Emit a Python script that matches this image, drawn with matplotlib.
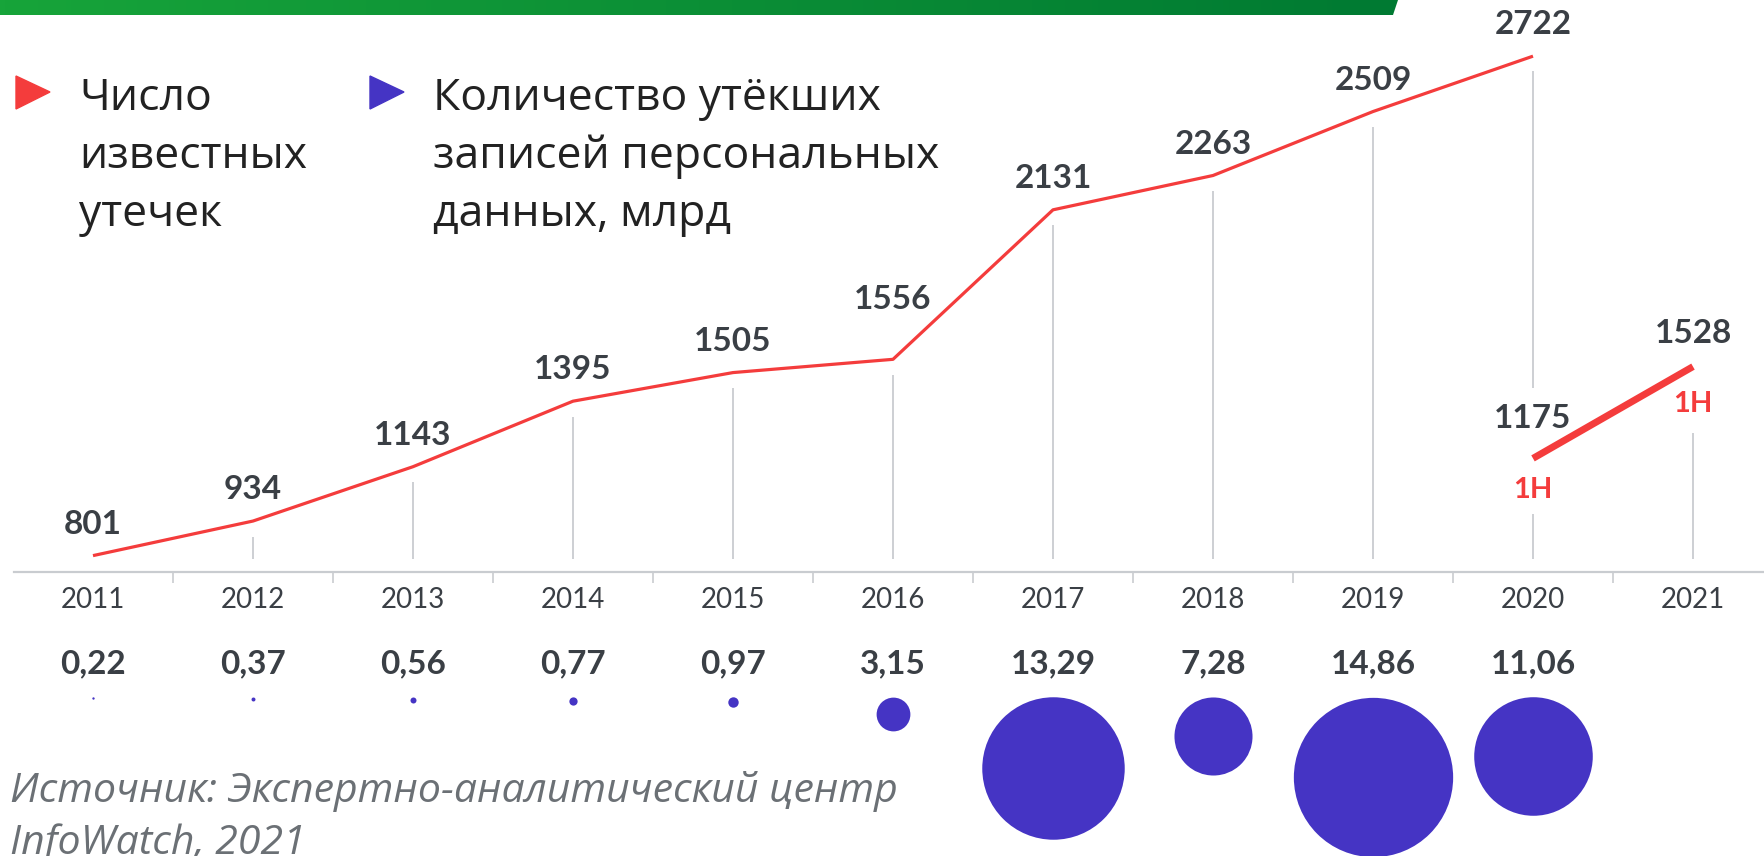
import numpy as np
import matplotlib.pyplot as plt
from matplotlib.patches import Polygon
from matplotlib.colors import LinearSegmentedColormap
from matplotlib.transforms import ScaledTranslation

# data
years = [2011, 2012, 2013, 2014, 2015, 2016, 2017, 2018, 2019, 2020]
leaks = [801, 934, 1143, 1395, 1505, 1556, 2131, 2263, 2509, 2722]
half_years = [2020, 2021]
half_leaks = [1175, 1528]
half_label = '1H'
records = [0.22, 0.37, 0.56, 0.77, 0.97, 3.15, 13.29, 7.28, 14.86, 11.06]
axis_years = list(range(2011, 2022))

legend_left = ['Число', 'известных', 'утечек']
legend_right = ['Количество утёкших', 'записей персональных', 'данных, млрд']
source_lines = ['Источник: Экспертно-аналитический центр', 'InfoWatch, 2021']

RED = '#F43C3C'
BLUE = '#4534C4'
DARK = '#3A3F45'
GRID = '#C9CCD0'

W, H = 1764, 856
fig = plt.figure(figsize=(W / 100, H / 100), dpi=100)
fig.patch.set_facecolor('white')

# main line chart, bottom spine = baseline
ax = fig.add_axes([14 / W, (H - 572) / H, 1 - 14 / W, 572 / H])
ax.set_facecolor('none')
xlim = (2011 - 79 / 160, 2011 + (W - 93) / 160)
ax.set_xlim(*xlim)
ax.set_ylim(738, 2938)

for s in ['top', 'left', 'right']:
    ax.spines[s].set_visible(False)
ax.spines['bottom'].set_color(GRID)
ax.spines['bottom'].set_linewidth(1.6)
ax.set_yticks([])
ax.set_xticks(axis_years)
ax.set_xticklabels([str(y) for y in axis_years], family='Lato',
                   fontsize=20, color=DARK)
ax.set_xticks([y + 0.5 for y in axis_years[:-1]], minor=True)
ax.tick_params(axis='x', which='major', length=0, pad=11)
ax.tick_params(axis='x', which='minor', length=8, width=1.2, color=GRID)

# grey drop lines under each point
base = 788
for yr, v in zip(years, leaks):
    if yr == 2020:
        ax.vlines(yr, half_leaks[0] + 270, v - 56, color=GRID, lw=1.3)
        ax.vlines(yr, base, half_leaks[0] - 215, color=GRID, lw=1.3)
    elif v - 56 > base:
        ax.vlines(yr, base, v - 60, color=GRID, lw=1.3)
ax.vlines(half_years[1], base, half_leaks[1] - 255, color=GRID, lw=1.3)

ax.plot(years, leaks, color=RED, lw=2.3, solid_capstyle='butt')
ax.plot(half_years, half_leaks, color=RED, lw=5, solid_capstyle='butt')

for yr, v in zip(years, leaks):
    up = 43 if yr == 2016 else 22.5
    ax.annotate(str(v), (yr, v), xytext=(0, up), textcoords='offset points',
                ha='center', va='center', family='Lato', weight='bold',
                fontsize=24, color=DARK, annotation_clip=False)
for yr, v, up, down in zip(half_years, half_leaks, [29, 24], [23, 27]):
    ax.annotate(str(v), (yr, v), xytext=(0, up), textcoords='offset points',
                ha='center', va='center', family='Lato', weight='bold',
                fontsize=24, color=DARK)
    ax.annotate(half_label, (yr, v), xytext=(0, -down), textcoords='offset points',
                ha='center', va='center', family='Lato', weight='bold',
                fontsize=21, color=RED)

# bubbles: diameter proportional to value, tops aligned
bx = fig.add_axes([14 / W, 0, 1 - 14 / W, (H - 572) / H])
bx.set_facecolor('none')
bx.set_xlim(*xlim)
bx.set_ylim(H, 572)
bx.axis('off')
for yr, v in zip(years, records):
    bx.text(yr, 664, f'{v:.2f}'.replace('.', ','), ha='center', va='center',
            family='Lato', weight='bold', fontsize=24, color=DARK)
    d_pt = 10.72 * v * 0.72
    off = ScaledTranslation(0, -d_pt / 2 / 72, fig.dpi_scale_trans)
    bx.scatter([yr], [697], s=d_pt ** 2, color=BLUE, linewidths=0,
               transform=bx.transData + off, clip_on=False)

# decoration: green bar, legend, source
fx = fig.add_axes([0, 0, 1, 1])
fx.set_facecolor('none')
cmap = LinearSegmentedColormap.from_list('g', ['#17A43A', '#007A32'])
im = fx.imshow(np.linspace(0, 1, 256).reshape(1, -1), cmap=cmap,
               extent=(0, 1398, 15, 0), aspect='auto')
im.set_clip_path(Polygon([(0, 0), (1398, 0), (1393, 15), (0, 15)],
                         closed=True, transform=fx.transData))
fx.set_xlim(0, W)
fx.set_ylim(H, 0)
fx.axis('off')

fx.add_patch(Polygon([(16, 76), (50, 92), (16, 109)], color=RED))
fx.add_patch(Polygon([(370, 76), (404, 92), (370, 109)], color=BLUE))
for i, (a, b) in enumerate(zip(legend_left, legend_right)):
    fx.text(79, 110 + 58 * i, a, family='Open Sans', fontsize=32,
            color='#222222', va='baseline')
    fx.text(433, 110 + 58 * i, b, family='Open Sans', fontsize=32,
            color='#222222', va='baseline')

for i, line in enumerate(source_lines):
    fx.text(10, 802 + 52 * i, line, family='Open Sans', style='italic',
            fontsize=29.5, color='#6B7075', va='baseline')

fig.savefig('out.png', dpi=100)
